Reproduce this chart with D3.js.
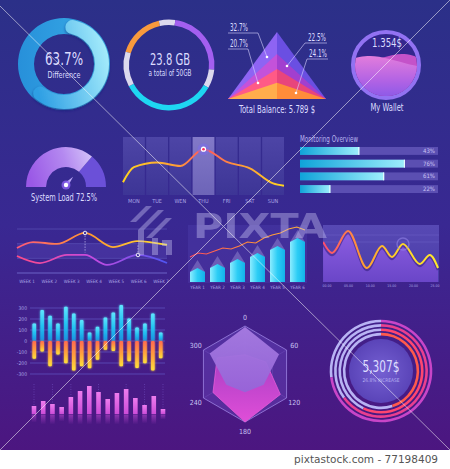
<!DOCTYPE html>
<html>
<head>
<meta charset="utf-8">
<script src="https://d3js.org/d3.v7.min.js"></script>
<style>
  body { margin: 0; background: #fff; }
  svg text { font-family: "DejaVu Sans Condensed", "Liberation Sans Narrow", "DejaVu Sans", sans-serif; font-stretch: condensed; }
</style>
</head>
<body>
<svg id="plot" width="450" height="469"></svg>
<script>
// ---- values ----
const differencePct = 63.7;
const storageUsed = "23.8 GB";
const storageNote = "a total of 50GB";
const storageSpan = [60, 21, 88, 24, 122, 45];          // degrees round the ring, from -73deg
const storageColors = ["#f99a3d", "#dcd9ee", "#a35ff0", "#dcd9ee", "#1ed6f2", "#dcd9ee"];

const balanceLabels = ["24.1%", "20.7%", "22.5%", "32.7%"]; // bottom layer -> top layer
const balanceValues = [24.1, 20.7, 22.5, 32.7];
const balanceTotal = "Total  Balance:  5.789 $";

const walletValue = "1.354$";
const walletFront = [0.6, 0.65, 0.64, 0.58, 0.52, 0.47];
const walletBack = [0.52, 0.56, 0.6, 0.67, 0.69, 0.6];

const systemLoad = 72.5;

const days = ["MON", "TUE", "WEN", "THU", "FRI", "SAT", "SUN"];
const dayLoad = [48, 56, 50, 79, 57, 46, 20];
const dayLoadEdges = [22, 16];

const monitorValues = [43, 76, 61, 22];

const weeks = ["WEEK 1", "WEEK 2", "WEEK 3", "WEEK 4", "WEEK 5", "WEEK 6", "WEEK 7"];
const weekPosA = [0.55, 1.27, 2.34, 3.6, 4.85, 5.93, 7.27];
const weekValA = [1.7, 2.11, 1.98, 2.73, 1.77, 2.18, 1.91];
const weekPosB = [0.55, 1.58, 2.79, 3.6, 4.58, 5.97, 7.27];
const weekValB = [1.16, 0.68, 1.23, 1.23, 0.55, 1.23, 0.68];

const years = ["YEAR 1", "YEAR 2", "YEAR 3", "YEAR 4", "YEAR 5", "YEAR 6"];
const yearBars = [10, 14, 19, 25, 32, 40];
const yearTrend = [25, 29, 28, 31, 34, 33, 36, 40, 39, 44, 47, 49, 53, 55, 52];

const waveTicks = ["00.00", "05.00", "10.00", "15.00", "20.00", "25.00"];
const waveT = [-0.9, 1.16, 4.86, 9.26, 12.73, 15.05, 17.59, 21.5, 23.8, 25.7];
const waveV = [40, 29, 51, 14, 36, 25, 38, 18, 27, 14];

const swingTicks = [300, 200, 100, 0, -100, -200, -300];
const swingUp = [159, 282, 230, 159, 312, 251, 190, 77, 129, 214, 260, 328, 205, 122, 159, 251, 77];
const swingDown = [-162, -95, -230, -122, -202, -269, -230, -248, -171, -80, -92, -230, -184, -245, -202, -269, -156];

const pinkBars = [8, 13, 10, 7, 17, 23, 28, 22, 15, 21, 25, 16, 9, 18, 5];

const radarAxes = [0, 60, 120, 180, 240, 300];
const radarA = [98, 82, 45, 38, 45, 85];
const radarB = [40, 50, 85, 100, 77, 67];

const ringPct = [73, 65, 57, 45];
const ringColors = ["#c845c8", "#ea3f8f", "#ff4670", "#ff5a4c"];
const ringTotal = "5,307$";
const ringNote = "26.8% INCREASE";

// ---- setup ----
const svg = d3.select("svg#plot");
const defs = svg.append("defs");
const TXT = "#dcdcff";
const SUB = "#a9a3e4";
const TAU = 2 * Math.PI;

function grad(id, stops, dir = [0, 0, 0, 1], user = false) {
    const g = defs.append("linearGradient").attr("id", id)
        .attr("x1", dir[0]).attr("y1", dir[1]).attr("x2", dir[2]).attr("y2", dir[3]);
    if (user) g.attr("gradientUnits", "userSpaceOnUse");
    stops.forEach((c, i) => g.append("stop")
        .attr("offset", Array.isArray(c) ? c[0] : i / (stops.length - 1))
        .attr("stop-color", Array.isArray(c) ? c[1] : c));
    return `url(#${id})`;
}
function label(g, x, y, s, size, fill, opts = {}) {
    const t = g.append("text").attr("x", x).attr("y", y).text(s)
        .attr("font-size", size).attr("fill", fill)
        .attr("text-anchor", opts.anchor || "middle");
    if (opts.width) t.attr("textLength", opts.width).attr("lengthAdjust", "spacingAndGlyphs");
    if (opts.weight) t.attr("font-weight", opts.weight);
    return t;
}

const glow = defs.append("filter").attr("id", "glow")
    .attr("x", "-60%").attr("y", "-20%").attr("width", "220%").attr("height", "140%");
glow.append("feGaussianBlur").attr("stdDeviation", 1.2).attr("result", "b");
const gm = glow.append("feMerge");
gm.append("feMergeNode").attr("in", "b");
gm.append("feMergeNode").attr("in", "SourceGraphic");

const shadow = defs.append("filter").attr("id", "shadow")
    .attr("x", "-20%").attr("y", "-20%").attr("width", "140%").attr("height", "140%");
shadow.append("feDropShadow").attr("dx", 0).attr("dy", 1.5).attr("stdDeviation", 1.5)
    .attr("flood-color", "#0b2470").attr("flood-opacity", 0.6);

//background
svg.append("rect").attr("width", 450).attr("height", 450)
    .attr("fill", grad("bg", ["#2b3088", "#392892", "#4c1680"]));
svg.append("rect").attr("y", 450).attr("width", 450).attr("height", 19).attr("fill", "#fff");

//difference donut
const dn = svg.append("g").attr("transform", "translate(64,64)");
dn.append("path")
    .attr("d", d3.arc().innerRadius(30).outerRadius(46)({startAngle: 0, endAngle: TAU}))
    .attr("fill", grad("dnBase", ["#2790da", "#3aaee8"], [0, 0, 1, 0]));
dn.append("path")
    .attr("d", d3.arc().innerRadius(31).outerRadius(45).cornerRadius(7)({startAngle: 0.04, endAngle: differencePct / 100 * TAU}))
    .attr("fill", grad("dnVal", ["#2e9fe4", "#a8eefc"], [0, 0.6, 1, 0.3]))
    .attr("filter", "url(#shadow)");
label(dn, 0, 1, differencePct + "%", 17, TXT, {width: 38});
label(dn, 0, 14, "Difference", 9, TXT, {width: 33});

//storage ring
const st = svg.append("g").attr("transform", "translate(169,65)");
const stPie = d3.pie().sort(null).startAngle(-73 * Math.PI / 180).endAngle(287 * Math.PI / 180);
st.selectAll("path").data(stPie(storageSpan)).join("path")
    .attr("d", d3.arc().innerRadius(40).outerRadius(45.5))
    .attr("fill", (d, i) => storageColors[i]);
label(st, 1, 0, storageUsed, 16, TXT, {width: 40});
label(st, 1, 11, storageNote, 8, TXT, {width: 43});

//total balance mountain
const bal = svg.append("g");
const xBal = d3.scaleLinear([-1, 1], [228, 326]);
const yBal = d3.scaleLinear([0, 100], [99, 32]);
const balCum = d3.cumsum(balanceValues);
const balLeft = ["#ffad4c", "#ff5a86", "#c452da", "#8e64f3"];
const balRight = ["#ff8c3a", "#e8457c", "#a23fcf", "#6a4fe2"];
for (let i = balCum.length - 1; i >= 0; i--) {
    const top = [xBal(0), yBal(balCum[i])];
    bal.append("path").attr("d", `M${xBal(-1)},${yBal(0)}L${top}L${xBal(0)},${yBal(0)}Z`).attr("fill", balLeft[i]);
    bal.append("path").attr("d", `M${xBal(1)},${yBal(0)}L${top}L${xBal(0)},${yBal(0)}Z`).attr("fill", balRight[i]);
}
const balPointers = [
    {i: 3, lx: 230, ly: 31, u: [228, 258], uy: 33, dot: [267, 57], anchor: "start"},
    {i: 1, lx: 230, ly: 47, u: [228, 248], uy: 49, dot: [258, 83], anchor: "start"},
    {i: 2, lx: 326, ly: 41, u: [305, 327], uy: 43, dot: [287, 66], anchor: "end"},
    {i: 0, lx: 327, ly: 57, u: [307, 328], uy: 59, dot: [296, 93], anchor: "end"}
];
balPointers.forEach(p => {
    const start = p.anchor === "start" ? p.u[1] : p.u[0];
    bal.append("path")
        .attr("d", `M${p.u[0]},${p.uy}L${p.u[1]},${p.uy}M${start},${p.uy}L${p.dot}`)
        .attr("stroke", "#d8d4ff").attr("stroke-width", 0.6).attr("fill", "none");
    bal.append("circle").attr("cx", p.dot[0]).attr("cy", p.dot[1]).attr("r", 1.3).attr("fill", "#fff");
    label(bal, p.lx, p.ly, balanceLabels[p.i], 10, TXT, {anchor: p.anchor, width: 18});
});
label(bal, 277, 113, balanceTotal, 10, TXT, {width: 76});

//wallet
const wl = svg.append("g").attr("transform", "translate(386,65)");
defs.append("clipPath").attr("id", "walletClip").append("circle").attr("r", 31);
wl.append("circle").attr("r", 33).attr("fill", "#33278e")
    .attr("stroke", "#9272f2").attr("stroke-width", 4);
const xW = d3.scaleLinear([0, 5], [-35, 35]);
const yW = d3.scaleLinear([0, 1], [31, -31]);
const waveArea = d3.area().x((d, i) => xW(i)).y0(40).y1(d => yW(d)).curve(d3.curveBasis);
const wlLiquid = wl.append("g").attr("clip-path", "url(#walletClip)");
wlLiquid.append("path").attr("d", waveArea(walletBack)).attr("fill", "#c452c9");
wlLiquid.append("path").attr("d", waveArea(walletFront))
    .attr("fill", grad("wlFront", ["#e27cdc", "#b263e4", "#7a55ea"]));
label(wl, 1, -18, walletValue, 13, TXT, {width: 30});
label(svg, 387, 111, "My Wallet", 10, TXT, {width: 33});

//system load gauge
const ga = svg.append("g").attr("transform", "translate(66,187)");
const gArc = d3.arc().innerRadius(20).outerRadius(40);
const gEnd = -Math.PI / 2 + systemLoad / 100 * Math.PI;
ga.append("path").attr("d", gArc({startAngle: gEnd, endAngle: Math.PI / 2})).attr("fill", "#6b50d8");
ga.append("path").attr("d", gArc({startAngle: -Math.PI / 2, endAngle: gEnd}))
    .attr("fill", grad("gaFill", [[0, "#9a58e6"], [0.6, "#b489f0"], [1, "#d2bff8"]], [0, 0.5, 1, 0.3]));
ga.append("path")
    .attr("d", "M-2.2,0L0,-11L2.2,0Z")
    .attr("transform", `translate(0,-2) rotate(${gEnd * 180 / Math.PI})`)
    .attr("fill", "#b9a4f7");
ga.append("circle").attr("cy", -2).attr("r", 4.5).attr("fill", "#8a5ff0").attr("opacity", 0.8);
ga.append("circle").attr("cy", -2).attr("r", 2.2).attr("fill", "#fff");
label(svg, 64, 201, `System Load  ${systemLoad}%`, 10, TXT, {width: 66});

//weekday columns with curve
const wd = svg.append("g");
const xDay = d3.scaleBand(days, [123, 284]).paddingInner(0.06);
const yDay = d3.scaleLinear([0, 100], [195, 137]);
const colNorm = grad("colNorm", ["#4d45a6", "#3d3596"]);
const colHi = grad("colHi", ["#8279c8", "#6d64b8"]);
wd.selectAll("rect").data(days).join("rect")
    .attr("x", d => xDay(d)).attr("y", yDay(100))
    .attr("width", xDay.bandwidth()).attr("height", yDay(0) - yDay(100))
    .attr("fill", d => d === "THU" ? colHi : colNorm);
wd.selectAll("text").data(days).join("text")
    .attr("x", d => xDay(d) + xDay.bandwidth() / 2).attr("y", 203)
    .attr("text-anchor", "middle").attr("font-size", 5.5).attr("fill", SUB).text(d => d);
const dayPts = [[xDay.range()[0], dayLoadEdges[0]],
    ...days.map((d, i) => [xDay(d) + xDay.bandwidth() / 2, dayLoad[i]]),
    [xDay.range()[1], dayLoadEdges[1]]];
wd.append("path")
    .attr("d", d3.line().x(d => d[0]).y(d => yDay(d[1])).curve(d3.curveMonotoneX)(dayPts))
    .attr("fill", "none").attr("stroke-width", 2)
    .attr("stroke", grad("dayLine", [[0, "#ffd41f"], [0.35, "#ff9a38"], [0.5, "#ff5260"], [0.72, "#ff9a38"], [1, "#ffd41f"]], [123, 0, 284, 0], true));
const thuX = xDay("THU") + xDay.bandwidth() / 2, thuY = yDay(dayLoad[3]);
wd.append("circle").attr("cx", thuX).attr("cy", thuY).attr("r", 6).attr("fill", "#7a6cf0").attr("opacity", 0.5);
wd.append("circle").attr("cx", thuX).attr("cy", thuY).attr("r", 2.6).attr("fill", "#fff");
wd.append("circle").attr("cx", thuX).attr("cy", thuY).attr("r", 1.3).attr("fill", "#ff2a5e");

//monitoring overview
const mo = svg.append("g");
const xMo = d3.scaleLinear([0, 100], [300, 438]);
const yMo = d3.scaleBand(d3.range(monitorValues.length), [147, 193]).paddingInner(0.38);
label(mo, 300, 142, "Monitoring Overview", 8, "#b9b3ef", {anchor: "start", width: 58});
mo.selectAll("rect.track").data(monitorValues).join("rect").attr("class", "track")
    .attr("x", xMo(0)).attr("y", (d, i) => yMo(i))
    .attr("width", xMo(100) - xMo(0)).attr("height", yMo.bandwidth()).attr("fill", "#5b4fb2");
const moFill = grad("moFill", ["#0fa3d9", "#9eeefc"], [0, 0, 1, 0]);
mo.selectAll("rect.bar").data(monitorValues).join("rect").attr("class", "bar")
    .attr("x", xMo(0)).attr("y", (d, i) => yMo(i))
    .attr("width", d => xMo(d) - xMo(0)).attr("height", yMo.bandwidth()).attr("fill", moFill);
mo.selectAll("rect.cap").data(monitorValues).join("rect").attr("class", "cap")
    .attr("x", d => xMo(d) - 1).attr("y", (d, i) => yMo(i))
    .attr("width", 1).attr("height", yMo.bandwidth()).attr("fill", "#f0fdff");
mo.selectAll("text.pct").data(monitorValues).join("text").attr("class", "pct")
    .attr("x", 435).attr("y", (d, i) => yMo(i) + yMo.bandwidth() / 2 + 2)
    .attr("text-anchor", "end").attr("font-size", 6).attr("fill", "#c8c2f2").text(d => d + "%");

//weekly two-line chart
const wc = svg.append("g");
const xWk = d3.scaleLinear([1, 7], [27, 161]);
const yWk = d3.scaleLinear([0, 3], [273, 229]);
wc.append("rect").attr("x", xWk(0.55)).attr("y", yWk(2)).attr("width", xWk(7.27) - xWk(0.55))
    .attr("height", yWk(1) - yWk(2)).attr("fill", "#6a5fd0").attr("opacity", 0.22);
wc.selectAll("line").data([0, 1, 2, 3]).join("line")
    .attr("x1", xWk(0.55)).attr("x2", xWk(7.27)).attr("y1", d => yWk(d)).attr("y2", d => yWk(d))
    .attr("stroke", d => d === 0 ? "#6c62c6" : "#5a50b6").attr("stroke-width", d => d === 0 ? 1 : 0.7);
wc.selectAll("text").data(weeks).join("text")
    .attr("x", (d, i) => xWk(i + 1)).attr("y", 283).attr("text-anchor", "middle")
    .attr("font-size", 4.5).attr("fill", SUB).text(d => d);
const wkLine = d3.line().x(d => xWk(d[0])).y(d => yWk(d[1])).curve(d3.curveMonotoneX);
const ptsA = weekPosA.map((p, i) => [p, weekValA[i]]);
const ptsB = weekPosB.map((p, i) => [p, weekValB[i]]);
wc.append("path").attr("d", wkLine(ptsA)).attr("fill", "none").attr("stroke-width", 1.8)
    .attr("stroke", grad("wkA", ["#ff5878", "#ff9a2e", "#ffe232"], [17, 0, 167, 0], true));
wc.append("path").attr("d", wkLine(ptsB)).attr("fill", "none").attr("stroke-width", 1.8)
    .attr("stroke", grad("wkB", ["#ff4a86", "#c64ae0", "#4f55f2"], [17, 0, 167, 0], true));
[[ptsA[3], yWk(1.4)], [ptsB[5], yWk(1.9)]].forEach(([p, y2]) => {
    wc.append("line").attr("x1", xWk(p[0])).attr("x2", xWk(p[0]))
        .attr("y1", yWk(p[1])).attr("y2", y2)
        .attr("stroke", "#d8d4ff").attr("stroke-width", 0.6).attr("stroke-dasharray", "1.5,1.2");
    wc.append("circle").attr("cx", xWk(p[0])).attr("cy", yWk(p[1])).attr("r", 1.8)
        .attr("fill", "#4a3aa0").attr("stroke", "#fff").attr("stroke-width", 0.9);
});

//yearly bars with trend
const yr = svg.append("g");
const xYr = d3.scaleBand(years, [190, 305]).paddingInner(0.25);
const yYr = d3.scaleLinear([0, 50], [282, 232]);
yr.append("rect").attr("x", 188).attr("y", 225).attr("width", 119).attr("height", 58)
    .attr("fill", "#6a60d0").attr("opacity", 0.18);
const yrFill = grad("yrFill", ["#8cecff", "#2ccdf5", "#13b2ea"], [0, 0, 1, 0]);
yr.selectAll("path.halo").data(yearBars).join("path").attr("class", "halo")
    .attr("d", (d, i) => {
        const x0 = xYr(years[i]), w = xYr.bandwidth(), t = yYr(d);
        return `M${x0},${t}L${x0 + w / 2},${t - 12}L${x0 + w},${t}Z`;
    })
    .attr("fill", "#c9c4f4").attr("opacity", 0.3);
yr.selectAll("path.bar").data(yearBars).join("path").attr("class", "bar")
    .attr("d", (d, i) => {
        const x0 = xYr(years[i]), w = xYr.bandwidth(), t = yYr(d);
        return `M${x0},${yYr(0)}L${x0},${t}L${x0 + w / 2},${t - 4}L${x0 + w},${t}L${x0 + w},${yYr(0)}Z`;
    })
    .attr("fill", yrFill);
yr.selectAll("text").data(years).join("text")
    .attr("x", d => xYr(d) + xYr.bandwidth() / 2).attr("y", 289).attr("text-anchor", "middle")
    .attr("font-size", 4.5).attr("fill", SUB).text(d => d);
const xTr = d3.scaleLinear([0, yearTrend.length - 1], [190, 305]);
yr.append("path")
    .attr("d", d3.line().x((d, i) => xTr(i)).y(d => yYr(d))(yearTrend))
    .attr("fill", "none").attr("stroke-width", 1.1)
    .attr("stroke", grad("trend", ["#ff4a5e", "#ff8a3a", "#ffb23a"], [190, 0, 305, 0], true));

//wave area chart
const wv = svg.append("g");
const xWv = d3.scaleLinear([0, 25], [327, 435]);
const yWv = d3.scaleLinear([0, 57], [282, 225]);
defs.append("clipPath").attr("id", "waveClip").append("rect")
    .attr("x", 323).attr("y", 225).attr("width", 116).attr("height", 57);
wv.append("rect").attr("x", 323).attr("y", 225).attr("width", 116).attr("height", 57)
    .attr("fill", grad("wvBg", ["#5749b4", "#4a3ca8"]));
wv.selectAll("line").data([40, 47]).join("line")
    .attr("x1", 323).attr("x2", 439).attr("y1", d => yWv(d)).attr("y2", d => yWv(d))
    .attr("stroke", "#6f63c6").attr("stroke-width", 0.5);
const wvPts = waveT.map((t, i) => [t, waveV[i]]);
const wvG = wv.append("g").attr("clip-path", "url(#waveClip)");
wvG.append("path")
    .attr("d", d3.area().x(d => xWv(d[0])).y0(yWv(0)).y1(d => yWv(d[1])).curve(d3.curveMonotoneX)(wvPts))
    .attr("fill", grad("wvArea", ["#8d5ee2", "#6a46c8"]));
wvG.append("path")
    .attr("d", d3.line().x(d => xWv(d[0])).y(d => yWv(d[1]) + 2).curve(d3.curveMonotoneX)(wvPts))
    .attr("fill", "none").attr("stroke", "#2a1870").attr("stroke-width", 2.5).attr("opacity", 0.5);
wvG.append("path")
    .attr("d", d3.line().x(d => xWv(d[0])).y(d => yWv(d[1])).curve(d3.curveMonotoneX)(wvPts))
    .attr("fill", "none").attr("stroke-width", 2)
    .attr("stroke", grad("wvLine", ["#ff4a70", "#ff9a35", "#ffd626", "#ffe82a"], [323, 0, 439, 0], true));
wv.append("circle").attr("cx", xWv(waveT[6])).attr("cy", yWv(waveV[6])).attr("r", 6)
    .attr("fill", "none").attr("stroke", "#9c8cf0").attr("stroke-width", 1.5).attr("opacity", 0.5);
wv.selectAll("text").data(waveTicks).join("text")
    .attr("x", (d, i) => xWv(i * 5)).attr("y", 287).attr("text-anchor", "middle")
    .attr("font-size", 3.5).attr("fill", SUB).text(d => d);

//positive / negative bars
const sw = svg.append("g");
const xSw = d3.scaleBand(d3.range(swingUp.length), [30.5, 164.5]).paddingInner(0.55).paddingOuter(0.25);
const ySw = d3.scaleLinear([-300, 300], [374, 308]);
sw.selectAll("line").data(swingTicks).join("line")
    .attr("x1", 30).attr("x2", 165).attr("y1", d => ySw(d)).attr("y2", d => ySw(d))
    .attr("stroke", "#5d52bd").attr("stroke-width", 0.8);
sw.selectAll("text").data(swingTicks).join("text")
    .attr("x", 27).attr("y", d => ySw(d) + 1.8).attr("text-anchor", "end")
    .attr("font-size", 5).attr("fill", SUB).text(d => d);
const upFill = grad("upFill", ["#5fe6ff", "#24c4f2", "#1890e0"]);
const dnFill = grad("dnFill", ["#ff6a52", "#ffa03c", "#ffe03a"]);
sw.selectAll("rect.up").data(swingUp).join("rect").attr("class", "up")
    .attr("x", (d, i) => xSw(i)).attr("y", d => ySw(d)).attr("rx", 1)
    .attr("width", xSw.bandwidth()).attr("height", d => ySw(0) - ySw(d))
    .attr("fill", upFill).attr("filter", "url(#glow)");
sw.selectAll("rect.down").data(swingDown).join("rect").attr("class", "down")
    .attr("x", (d, i) => xSw(i)).attr("y", ySw(0)).attr("rx", 1)
    .attr("width", xSw.bandwidth()).attr("height", d => ySw(d) - ySw(0))
    .attr("fill", dnFill).attr("filter", "url(#glow)");

//pink bars with reflection
const pk = svg.append("g");
const xPk = d3.scaleBand(d3.range(pinkBars.length), [29.4, 167.6]).paddingInner(0.5).paddingOuter(0.25);
const yPk = d3.scaleLinear([0, 28], [414, 386]);
pk.selectAll("line").data([0, 2, 4, 7, 10, 12, 14]).join("line")
    .attr("x1", d => xPk(d) + xPk.bandwidth() / 2).attr("x2", d => xPk(d) + xPk.bandwidth() / 2)
    .attr("y1", 384).attr("y2", 414)
    .attr("stroke", "#7a5ccc").attr("stroke-width", 0.5).attr("stroke-dasharray", "1,1.5");
pk.selectAll("rect.bar").data(pinkBars).join("rect").attr("class", "bar")
    .attr("x", (d, i) => xPk(i)).attr("y", d => yPk(d))
    .attr("width", xPk.bandwidth()).attr("height", d => yPk(0) - yPk(d))
    .attr("fill", grad("pkFill", ["#ee7cee", "#cc4cd8"]));
pk.selectAll("rect.mirror").data(pinkBars).join("rect").attr("class", "mirror")
    .attr("x", (d, i) => xPk(i)).attr("y", yPk(0) + 0.5)
    .attr("width", xPk.bandwidth()).attr("height", d => Math.min(yPk(0) - yPk(d), 10))
    .attr("fill", grad("pkMirror", [[0, "#c94bd6"], [1, "#c94bd600"]])).attr("opacity", 0.55);

//radar
const rd = svg.append("g").attr("transform", "translate(245,374)");
const rR = d3.scaleLinear([0, 100], [0, 48]);
const rPt = (deg, v) => [Math.sin(deg * Math.PI / 180) * rR(v), -Math.cos(deg * Math.PI / 180) * rR(v)];
const hexPath = vals => "M" + vals.map((v, i) => rPt(radarAxes[i], v).join(",")).join("L") + "Z";
rd.append("path").attr("d", hexPath(radarAxes.map(() => 100)))
    .attr("fill", "#7a5ad6").attr("fill-opacity", 0.3).attr("stroke", "#a890ee").attr("stroke-width", 0.7);
[66, 33].forEach(v => rd.append("path").attr("d", hexPath(radarAxes.map(() => v)))
    .attr("fill", "none").attr("stroke", "#8a6cd8").attr("stroke-width", 0.4).attr("opacity", 0.6));
rd.selectAll("line").data(radarAxes).join("line")
    .attr("x2", d => rPt(d, 100)[0]).attr("y2", d => rPt(d, 100)[1])
    .attr("stroke", "#8a6cd8").attr("stroke-width", 0.4).attr("opacity", 0.6);
rd.append("path").attr("d", hexPath(radarB))
    .attr("fill", grad("rdB", ["#a83ec4", "#e04ed8"])).attr("stroke", "#e65ad8").attr("stroke-width", 0.8);
rd.append("path").attr("d", hexPath(radarA))
    .attr("fill", grad("rdA", ["#a77ce2", "#9565d8"])).attr("fill-opacity", 0.95);
rd.selectAll("text").data(radarAxes).join("text")
    .attr("x", d => Math.sin(d * Math.PI / 180) * 57)
    .attr("y", d => -Math.cos(d * Math.PI / 180) * 57 + 2.5)
    .attr("text-anchor", "middle").attr("font-size", 7).attr("fill", "#c8c2f2").text(d => d);

//concentric rings
const rg = svg.append("g").attr("transform", "translate(381,371)");
const ringR = d3.scaleBand(d3.range(ringPct.length), [55, 37.5]);
defs.append("radialGradient").attr("id", "rgDisc").call(g => {
    g.append("stop").attr("offset", 0).attr("stop-color", "#7560d2");
    g.append("stop").attr("offset", 1).attr("stop-color", "#5a44b8");
});
rg.append("circle").attr("r", 32).attr("fill", "url(#rgDisc)");
ringPct.forEach((p, i) => {
    const r = ringR(i) + ringR.bandwidth() / 2 - 2.8;
    const arc = d3.arc().innerRadius(r - 1.3).outerRadius(r + 1.3);
    rg.append("path").attr("d", arc({startAngle: p / 100 * TAU, endAngle: TAU})).attr("fill", "#b8b3f4");
    rg.append("path").attr("d", arc({startAngle: 0, endAngle: p / 100 * TAU})).attr("fill", ringColors[i]);
});
label(rg, 0, 1, ringTotal, 16, TXT, {width: 37});
label(rg, 0, 11, ringNote, 5, "#b4aef0", {width: 37});

//watermark
const wm = svg.append("g").attr("fill", "#c4bff0").attr("opacity", 0.42);
label(wm, 193, 238, "PIXTA", 34, "#c4bff0", {anchor: "start", width: 134, weight: "bold"});
wm.append("path").attr("d", "M130,222L146,206L152,206L136,222Z M138,230L158,210L164,210L144,230Z M146,238L166,218L172,218L152,238Z M138,230L144,230L144,255L138,255Z M152,238L158,238L158,255L152,255Z M162,240L172,240L172,255L166,255L166,246L162,246Z");
svg.append("path").attr("d", "M0,6L450,450 M450,0L0,450")
    .attr("stroke", "#ffffff").attr("stroke-width", 0.8).attr("opacity", 0.65);
svg.append("text").attr("x", 438).attr("y", 463).attr("text-anchor", "end")
    .style("font-family", "'DejaVu Sans', sans-serif").style("font-stretch", "normal")
    .attr("font-size", 10.5).attr("fill", "#555").text("pixtastock.com - 77198409");
</script>
</body>
</html>
